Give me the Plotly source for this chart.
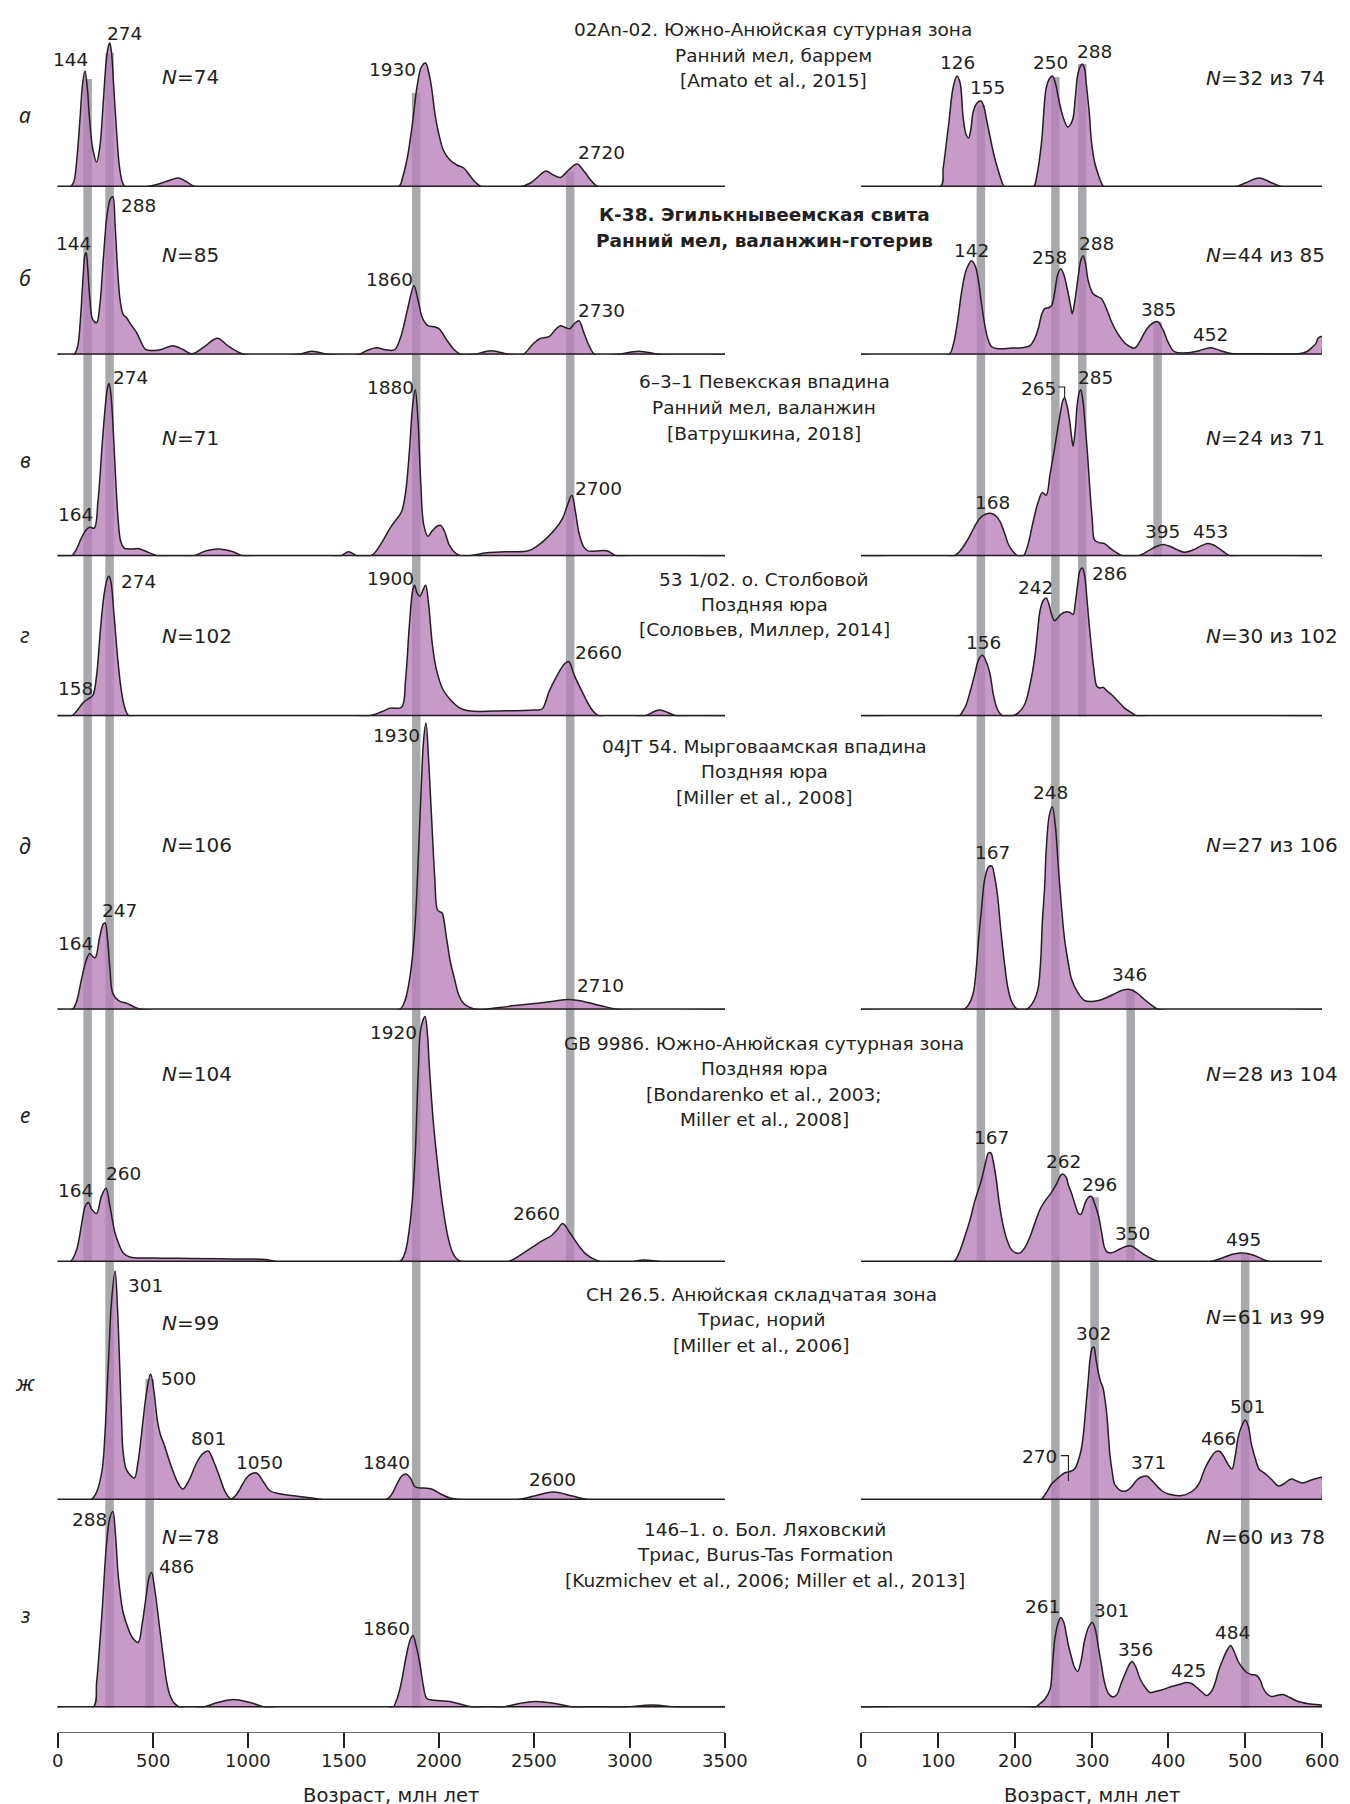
import plotly.graph_objects as go

# ============================ DATA ============================
row_letters = ["а", "б", "в", "г", "д", "е", "ж", "з"]

titles = [
    ["02An-02. Южно-Анюйская сутурная зона", "Ранний мел, баррем", "[Amato et al., 2015]"],
    ["К-38. Эгилькнывеемская свита", "Ранний мел, валанжин-готерив"],
    ["6–3–1 Певекская впадина", "Ранний мел, валанжин", "[Ватрушкина, 2018]"],
    ["53 1/02. о. Столбовой", "Поздняя юра", "[Соловьев, Миллер, 2014]"],
    ["04JT 54. Мырговаамская впадина", "Поздняя юра", "[Miller et al., 2008]"],
    ["GB 9986. Южно-Анюйская сутурная зона", "Поздняя юра", "[Bondarenko et al., 2003;", "Miller et al., 2008]"],
    ["CH 26.5. Анюйская складчатая зона", "Триас, норий", "[Miller et al., 2006]"],
    ["146–1. о. Бол. Ляховский", "Триас, Burus-Tas Formation", "[Kuzmichev et al., 2006; Miller et al., 2013]"],
]
bold_title_rows = [1]

n_total = [74, 85, 71, 102, 106, 104, 99, 78]
n_young = [32, 44, 24, 30, 27, 28, 61, 60]

left_ticks = [0, 500, 1000, 1500, 2000, 2500, 3000, 3500]
right_ticks = [0, 100, 200, 300, 400, 500, 600]
axis_title = "Возраст, млн лет"

# density curves (age in Ma, relative density) - left panel 0-3500 Ma
a_left = [(0,0),(65,0),(85,5),(100,25),(118,68),(132,104),(144,116),(156,100),(168,68),(185,38),(205,25),
          (222,40),(240,85),(255,125),(266,140),(274,144),(283,135),(295,100),(310,55),(325,20),(340,5),(355,0),
          (460,0),(530,3),(600,7.5),(633,9),(670,6),(729,0),
          (1787,0),(1810,10),(1835,30),(1860,62),(1885,100),(1908,120),(1930,124),(1946,115),(1961,100),(1980,72),
          (1997,55),(2025,36),(2058,27),(2094,22),(2130,19),(2160,12),(2190,5),(2227,0),
          (2420,0),(2480,4),(2530,12),(2560,16),(2600,12),(2637,9.6),(2680,17),(2724,23),(2760,16),(2800,6),(2838,0),(3500,0)]
b_left = [(0,0),(85,0),(105,8),(120,35),(135,80),(144,100),(150,102),(158,88),(170,55),(185,35),(205,32),(222,50),
          (240,95),(260,140),(278,156),(290,158),(302,130),(315,85),(330,52),(345,40),(362,37),(385,30),(415,22),
          (440,12),(464,5),(540,5),(604,9),(660,5),(705,1),(770,8),(838,16.5),(900,8),(983,0),
          (1260,0),(1333,3.5),(1430,0),(1575,0),(1620,4),(1671,7),(1720,5),(1768,5),(1800,18),(1835,45),(1869,69),
          (1890,55),(1913,37),(1942,29),(1975,28),(2000,26),(2040,15),(2080,5),(2118,0),(2178,0),(2275,4),(2371,0),
          (2439,0),(2490,10),(2528,16),(2577,18),(2610,25),(2637,29),(2665,27),(2686,26),(2710,31),(2734,34),
          (2760,22),(2790,8),(2818,0),(2927,0),(3048,3.5),(3168,0),(3500,0)]
v_left = [(0,0),(72,0),(100,8),(125,20),(150,29),(169,32),(193,31),(212,60),(235,125),(252,168),(262,185),(270,190),
          (280,178),(292,140),(305,85),(318,40),(332,16),(350,9),(390,8),(427,8.4),(480,4),(536,0),(705,0),(780,6),
          (845,8),(920,5),(983,0),(1478,0),(1526,5),(1575,0),(1647,1),(1700,15),(1744,31),(1775,40),(1804,49),
          (1825,70),(1845,115),(1862,165),(1876,183),(1890,150),(1905,80),(1920,35),(1942,22),(1965,28),(1990,33),
          (2009,34),(2030,27),(2055,12),(2090,3),(2130,0),(2251,4),(2350,5),(2468,6),(2520,12),(2565,20),(2610,30),
          (2649,42),(2675,57),(2697,67),(2715,50),(2735,25),(2760,10),(2782,6),(2879,6),(2939,0),(3500,0)]
g_left = [(0,0),(72,0),(105,7),(135,15),(160,19),(185,23),(205,45),(225,95),(245,135),(262,152),(270,154),(280,148),
          (295,115),(315,65),(335,28),(355,8),(379,0),(1623,0),(1700,5),(1744,9),(1804,10),(1825,40),(1845,100),
          (1862,138),(1872,144),(1886,135),(1900,132),(1915,138),(1930,144),(1945,125),(1965,80),(1985,53),(2020,30),
          (2070,16),(2110,9),(2154,6),(2350,6),(2500,7),(2541,8),(2577,27),(2620,45),(2660,58),(2681,60),(2710,45),
          (2758,24),(2800,8),(2842,0),(3072,0),(3156,7),(3253,0),(3500,0)]
d_left = [(0,0),(77,0),(100,8),(126,30),(150,48),(169,55),(185,52),(198,51),(220,70),(240,84),(250,85),(262,70),
          (275,40),(290,16),(320,9),(367,6),(410,2),(452,0),(1792,0),(1820,8),(1840,23),(1860,50),(1876,86),
          (1892,150),(1905,208),(1920,265),(1932,281),(1946,245),(1961,190),(1978,130),(1992,98),(2005,96),(2016,95),
          (2040,70),(2060,47),(2082,30),(2105,14),(2130,6),(2165,2),(2203,0),(2227,0),(2396,4),(2550,7),(2673,10),
          (2730,9),(2782,7),(2870,3),(2951,0),(3500,0)]
e_left = [(0,0),(65,0),(100,12),(126,37),(145,55),(162,59),(180,52),(205,48),(230,65),(254,73),(275,55),(300,30),
          (319,19),(345,9),(379,5),(500,4),(705,3.5),(900,3),(1092,2.5),(1164,0),(1792,0),(1820,8),(1840,26),
          (1860,60),(1876,108),(1892,190),(1905,231),(1927,243),(1940,225),(1949,196),(1970,140),(1997,90),(2020,55),
          (2046,26),(2070,10),(2094,3),(2130,0),(2359,0),(2420,6),(2468,12),(2541,21),(2589,26),(2620,32),(2649,38),
          (2690,28),(2734,16),(2770,8),(2806,3.5),(2855,0),(3000,0),(3072,2),(3180,0),(3500,0)]
zh_left = [(0,0),(174,0),(205,8),(234,30),(250,70),(260,110),(270,150),(283,198),(302,229),(315,190),(326,135),
           (335,85),(343,50),(358,32),(372,27),(403,22),(420,35),(440,65),(465,105),(488,126),(505,110),(524,79),
           (540,65),(560,55),(585,40),(609,27),(635,16),(657,11),(690,20),(729,37),(760,46),(790,49),(820,38),
           (850,23),(880,8),(910,1),(940,6),(971,16),(1000,24),(1043,27),(1080,18),(1116,9),(1164,6.3),(1250,4),
           (1333,2),(1405,0),(1720,0),(1750,5),(1780,16),(1805,24),(1828,26),(1850,22),(1876,13),(1920,12),(1961,11),
           (2010,6),(2058,2),(2130,0),(2396,0),(2500,4),(2601,8),(2700,4),(2794,0),(3500,0)]
z_left = [(0,0),(186,0),(205,25),(220,60),(234,96),(258,166),(275,190),(290,196),(305,170),(319,131),(343,96),
          (360,85),(379,75),(400,68),(423,65),(445,85),(464,110),(480,130),(493,135),(510,118),(536,79),(555,50),
          (572,26),(590,12),(609,5),(645,0),(753,0),(840,5),(923,8),(1010,5),(1104,0),(1756,0),(1775,6),(1792,16),
          (1810,32),(1828,51),(1850,68),(1864,72),(1880,62),(1900,44),(1918,22),(1937,9),(1990,7),(2058,6),(2120,3),
          (2190,0),(2323,0),(2420,4),(2504,6),(2610,4),(2722,0),(2951,0),(3120,2.5),(3265,0),(3500,0)]

# right panel 0-600 Ma
a_right = [(0,0),(103,0),(107,19),(114,62),(120,100),(125,111),(129,104),(133,69),(137,52),(140,49),(143,58),
           (146,75),(151,84),(156,86),(160,80),(163,69),(168,50),(174,29),(180,13),(183,6),(187,0),
           (224,0),(229,12),(235,45),(241,99),(245,108),(249,111),(253,104),(257,89),(263,70),(269,60),(273,63),
           (276,69),(279,90),(282,112),(285,120),(288,123),(291,118),(293,105),(297,75),(300,45),(304,25),(309,12),
           (313,4),(317,0),(486,0),(500,4),(518,9),(535,4),(549,0),(600,0)]
b_right = [(0,0),(114,0),(120,10),(126,35),(131,63),(137,85),(144,94),(149,88),(153,73),(157,50),(161,30),(165,16),
           (170,8),(179,6),(196,6.6),(210,7),(220,9),(226,16),(231,27),(235,40),(239,46),(244,47),(248,49),(252,62),
           (256,80),(260,86),(264,80),(270,60),(273,48),(275,41),(278,52),(283,80),(286,94),(289,99),(292,92),
           (296,73),(302,61),(308,58),(313,56),(320,45),(326,33),(335,20),(343,12),(350,8),(356,6.6),(362,12),
           (369,22),(377,30),(386,33),(393,25),(400,12),(408,3),(426,2),(440,4),(455,7),(468,4),(482,1.3),(520,1),
           (569,1),(580,3),(586,6.6),(592,11),(595,16.6),(600,18),(600,0)]
v_right = [(0,0),(120,0),(128,5),(135,13),(142,23),(148,33),(154,41),(159,45),(165,47),(170,47),(176,44),(181,38),
           (187,25),(192,13),(198,5),(205,0),(211,0),(217,12),(224,38),(230,58),(236,70),(241,67),(246,90),(252,119),
           (256,140),(260,160),(263,172),(265,174),(268,166),(271,152),(274,132),(276,121),(279,140),(281,163),
           (284,180),(286,183),(289,170),(291,152),(295,110),(298,72),(301,40),(304,18),(310,15),(317,14),(324,9),
           (330,5.5),(341,0),(359,0),(368,3),(376,7),(385,11),(393,13),(402,11),(412,7),(421,4.4),(432,7),(444,12),
           (452,14),(462,11),(472,5),(482,0),(600,0)]
g_right = [(0,0),(127,0),(132,5),(137,13),(143,30),(148,46),(153,62),(158,67),(163,60),(168,46),(172,25),(176,11),
           (180,4),(185,0),(196,0),(205,4),(213,13),(220,35),(226,64),(230,95),(233,116),(237,127),(241,130),
           (245,122),(248,112),(252,105),(256,108),(260,112),(264,114),(268,115),(272,114),(276,112),(279,125),
           (282,145),(285,160),(288,163),(291,155),(294,130),(297,100),(300,75),(303,52),(307,33),(311,31),(315,32),
           (320,28),(326,24),(335,16),(343,9),(352,4),(361,0),(600,0)]
d_right = [(0,0),(133,0),(140,5),(146,16),(150,40),(153,69),(157,100),(161,128),(166,140),(170,141),(174,130),
           (178,110),(182,78),(187,44),(191,22),(196,8),(200,3),(205,0),(215,0),(222,5),(228,14),(231,23),(234,50),
           (236,86),(239,120),(241,156),(245,190),(249,199),(253,180),(257,138),(261,100),(265,69),(270,45),(274,30),
           (282,17),(291,9),(300,8),(309,9),(320,12),(331,16),(340,19),(349,20),(358,17),(369,10),(379,4),(389,0),
           (600,0)]
e_right = [(0,0),(120,0),(127,8),(135,25),(142,42),(148,60),(153,72),(157,82),(162,98),(166,108),(169,108),
           (172,100),(176,82),(180,58),(185,36),(190,22),(196,12),(202,9),(207,9),(213,14),(220,25),(226,38),
           (233,52),(240,61),(248,69),(255,78),(260,86),(263,87),(267,84),(270,76),(274,68),(279,56),(283,48),
           (286,47),(289,52),(292,59),(296,64),(300,65),(304,58),(309,46),(313,30),(317,14),(320,10),(324,9),
           (330,10),(335,12),(343,15),(351,16),(360,12),(369,7),(379,3),(389,0),(452,0),(470,4),(485,8),(497,9),
           (510,7),(522,3),(534,0),(600,0)]
zh_right = [(0,0),(233,0),(240,6),(248,16),(255,21),(261,25),(266,27.5),(270,28),(274,29),(278,31),(283,40),
            (287,52),(290,70),(293,96),(296,122),(298,140),(301,152),(303,153),(306,140),(309,127),(312,118),
            (315,112),(318,98),(320,85),(322,65),(324,45),(327,28),(330,16),(335,11),(339,9),(345,9),(352,13),
            (359,20),(365,23),(372,24),(378,20),(385,14),(392,9),(400,6),(417,4.4),(434,10.5),(441,18),(447,30.5),
            (455,42),(461,48),(466,49),(471,45),(476,38),(480,33),(483,31),(487,44),(491,63),(495,73),(500,80),
            (504,74),(508,56),(513,42),(518,31),(523,28),(528,25),(535,20),(543,14),(550,16),(560,21),(567,19),
            (575,17),(586,20),(595,22),(600,22.5),(600,0)]
z_right = [(0,0),(226,0),(233,4),(239,8),(246,18),(249,40),(252,67),(256,83),(260,90),(264,85),(267,74),(270,62),
           (274,50),(278,40),(282,36),(286,45),(291,67),(296,80),(301,85),(305,78),(309,60),(313,42),(317,25),
           (322,14),(328,10.5),(333,13),(339,25),(345,36),(350,44),(353,46),(358,40),(363,29),(370,20),(376,15),
           (383,16),(391,17.5),(397,19),(404,21),(414,23),(424,25),(430,24),(437,20),(443,16),(450,12),(456,16),
           (461,25),(465,36),(472,50),(477,58),(481,62),(485,57),(491,46),(496,40),(502,35),(508,33),(515,32),
           (520,27),(523,20),(528,14),(534,11),(541,12),(549,13),(558,10),(569,6),(585,3.5),(600,2),(600,0)]

left_curves = [a_left, b_left, v_left, g_left, d_left, e_left, zh_left, z_left]
right_curves = [a_right, b_right, v_right, g_right, d_right, e_right, zh_right, z_right]

# peak age labels
left_peaks = [[144, 274, 1930, 2720], [144, 288, 1860, 2730], [274, 1880, 164, 2700], [274, 1900, 158, 2660],
              [1930, 247, 164, 2710], [1920, 164, 260, 2660], [301, 500, 801, 1050, 1840, 2600], [288, 486, 1860]]
right_peaks = [[126, 155, 250, 288], [142, 258, 288, 385, 452], [265, 285, 168, 395, 453], [242, 286, 156],
               [248, 167, 346], [167, 262, 296, 350, 495], [302, 270, 371, 466, 501], [261, 301, 356, 425, 484]]

# grey reference bands (age, Ma)
left_band_ages = [158, 273, 483, 1881, 2688]
right_band_ages = [156, 253, 288, 386, 351, 304, 500]

# leader brackets for labels 265 (row в) and 270 (row ж), right panel
bracket_v_age = [257, 265, 265]
bracket_v_dens = [186, 186, 174]
bracket_zh_age = [260, 270, 270]
bracket_zh_dens = [44.4, 44.4, 19]

# ============================ LAYOUT / STYLE ============================
W, H = 1350, 1804
X_LEFT = (49.5, 717.0)
X_RIGHT = (853.0, 1314.0)
baseline_px = [179.0, 346.7, 548.3, 708.3, 1001.7, 1254.0, 1492.0, 1699.5]
unit_px = [1.0, 1.0, 0.91, 0.91, 1.02, 1.01, 1.0, 1.0]
AXIS_Y = 1723.5
TICKLABEL_Y = 1752
AXIS_TITLE_Y = 1787
INK = "#231f20"
AXIS_LINE = "#6d6e71"
FILL = "rgba(185,129,186,0.80)"
BAND = "#a7a9ac"
FONT = "DejaVu Sans"

# label placements (age, height[, xanchor]) -- same order as *_peaks
left_label_xy = [
    [(68, 128), (353, 154), (1758, 118), (2852, 35)],
    [(86, 111.5), (427, 149.5), (1741, 75.6), (2852, 44)],
    [(385, 196), (1744, 185), (93, 46), (2839, 75)],
    [(424, 148.6), (1744, 151.5), (93, 31), (2839, 69.7)],
    [(1780, 269), (327, 97.6), (93, 65), (2846, 23.3)],
    [(1763, 227), (93, 70.6), (345, 88), (2514, 48.3)],
    [(464, 215), (633, 122), (793, 61.5), (1058, 37.8), (1724, 37.8), (2597, 20.6)],
    [(170, 188), (624, 141), (1724, 78.7)],
]
right_label_xy = [
    [(125, 125), (165, 100), (247, 125), (304, 136)],
    [(144, 104.6), (245, 97), (306, 111), (387, 45), (455, 20.6)],
    [(256, 184.5, "right"), (305, 196), (171, 59.4), (392, 26.8), (455, 26.8)],
    [(227, 142), (323, 156.6), (160, 80.7)],
    [(247, 212.7), (171, 154), (349, 34.5)],
    [(170, 123), (264, 99.5), (310, 77), (353, 28.4), (498, 22.4)],
    [(303, 167), (258, 43.3, "right"), (374, 37.8), (465, 61.5), (503, 94)],
    [(236, 100.6), (326, 97), (357, 58.5), (426, 37.5), (483, 75.3)],
]
left_n_xy = [(536, 110), (536, 100), (536, 130), (536, 88), (536, 161.7), (536, 186), (536, 177), (536, 171)]
right_n_xy = [(447, 109), (447, 99.7), (447, 130), (447, 88), (447, 161.8), (447, 186), (447, 183), (447, 170.6)]
# bands: (top row, top height, bottom row)
left_band_span = [(0, 108, 5), (0, 134, 7), (6, 121, 7), (0, 94, 7), (0, 15.5, 5)]
right_band_span = [(0, 82, 5), (0, 110, 7), (0, 123, 3), (1, 33, 2), (4, 20, 5), (5, 64, 7), (5, 9, 7)]
letter_y = [107, 270, 452, 627, 838, 1107, 1375, 1607]
title_x = [765, 756, 756, 756, 756, 756, 753, 757]
title_y0 = [21.7, 206.7, 374, 571, 738, 1035, 1286, 1521]
TITLE_DY = 25.5


def py(p):
    return 1 - p / H


def px(p):
    return p / W


def sfx(k):
    return "" if k == 1 else str(k)


fig = go.Figure()
layout_axes = {}
for i in range(8):
    top = 1.0 if i == 0 else baseline_px[i - 1] - 12
    span = baseline_px[i] - top
    for c in range(2):
        k = 2 * i + c + 1
        xd = X_LEFT if c == 0 else X_RIGHT
        xr = [0, 3500] if c == 0 else [0, 600]
        xa = dict(domain=[px(xd[0]), px(xd[1])], range=xr, anchor="y" + sfx(k), visible=False,
                  showgrid=False, zeroline=False, fixedrange=True)
        if i == 7:
            xa.update(visible=True, anchor="free", position=py(AXIS_Y), showline=True, linecolor=AXIS_LINE,
                      linewidth=1.2, ticks="outside", ticklen=15, tickwidth=2, tickcolor=INK,
                      tickvals=left_ticks if c == 0 else right_ticks, showticklabels=False)
        layout_axes["xaxis" + sfx(k)] = xa
        layout_axes["yaxis" + sfx(k)] = dict(domain=[py(baseline_px[i]), py(top)], range=[0, span / unit_px[i]],
                                              anchor="x" + sfx(k), visible=False, showgrid=False,
                                              zeroline=False, fixedrange=True)

shapes = []
annotations = []

# curves
for i in range(8):
    for c, curves in enumerate([left_curves, right_curves]):
        k = 2 * i + c + 1
        pts = curves[i]
        fig.add_trace(go.Scatter(
            x=[p[0] for p in pts], y=[p[1] for p in pts], mode="lines",
            line=dict(color=INK, width=1.5, shape="spline", smoothing=1.0),
            fill="tozeroy", fillcolor=FILL, xaxis="x" + sfx(k), yaxis="y" + sfx(k),
            hoverinfo="skip", showlegend=False))
        # thick baseline
        shapes.append(dict(type="line", xref="x" + sfx(k) + " domain", yref="y" + sfx(k),
                           x0=0, x1=1, y0=0, y1=0, line=dict(color=INK, width=3), layer="above"))

# brackets
fig.add_trace(go.Scatter(x=bracket_v_age, y=bracket_v_dens, mode="lines", line=dict(color=INK, width=1.1),
                         xaxis="x6", yaxis="y6", hoverinfo="skip", showlegend=False))
fig.add_trace(go.Scatter(x=bracket_zh_age, y=bracket_zh_dens, mode="lines", line=dict(color=INK, width=1.1),
                         xaxis="x14", yaxis="y14", hoverinfo="skip", showlegend=False))

# grey bands
for c, (ages, spans) in enumerate([(left_band_ages, left_band_span), (right_band_ages, right_band_span)]):
    k = c + 1
    for age, (tr, th, br) in zip(ages, spans):
        ytop = baseline_px[tr] - th * unit_px[tr]
        shapes.append(dict(type="line", xref="x" + sfx(k), yref="paper", x0=age, x1=age,
                           y0=py(baseline_px[br]), y1=py(ytop), line=dict(color=BAND, width=8.5), layer="below"))

# texts
for i in range(8):
    annotations.append(dict(xref="paper", yref="paper", x=px(17), y=py(letter_y[i]), text="<i>%s</i>" % row_letters[i],
                            showarrow=False, font=dict(family="Noto Sans", size=21, color=INK),
                            xanchor="center", yanchor="middle"))
    for j, line in enumerate(titles[i]):
        txt = "<b>%s</b>" % line if i in bold_title_rows else line
        annotations.append(dict(xref="paper", yref="paper", x=px(title_x[i]), y=py(title_y0[i] + j * TITLE_DY),
                                text=txt, showarrow=False, font=dict(family=FONT, size=18.5, color=INK),
                                xanchor="center", yanchor="middle"))
    kl, kr = 2 * i + 1, 2 * i + 2
    annotations.append(dict(xref="x" + sfx(kl), yref="y" + sfx(kl), x=left_n_xy[i][0], y=left_n_xy[i][1],
                            text="<i>N</i>=%d" % n_total[i], showarrow=False,
                            font=dict(family=FONT, size=20, color=INK), xanchor="left", yanchor="middle"))
    annotations.append(dict(xref="x" + sfx(kr), yref="y" + sfx(kr), x=right_n_xy[i][0], y=right_n_xy[i][1],
                            text="<i>N</i>=%d из %d" % (n_young[i], n_total[i]), showarrow=False,
                            font=dict(family=FONT, size=20, color=INK), xanchor="left", yanchor="middle"))
    for c, (peaks, xy) in enumerate([(left_peaks, left_label_xy), (right_peaks, right_label_xy)]):
        k = 2 * i + c + 1
        for val, pos in zip(peaks[i], xy[i]):
            anc = pos[2] if len(pos) > 2 else "center"
            annotations.append(dict(xref="x" + sfx(k), yref="y" + sfx(k), x=pos[0], y=pos[1], text=str(val),
                                    showarrow=False, font=dict(family=FONT, size=18.5, color=INK),
                                    xanchor=anc, yanchor="middle"))

# tick labels and axis titles of the bottom axes
for c, (xd, ticks) in enumerate([(X_LEFT, left_ticks), (X_RIGHT, right_ticks)]):
    k = 15 + c
    for t in ticks:
        annotations.append(dict(xref="x" + sfx(k), yref="paper", x=t, y=py(TICKLABEL_Y), text=str(t),
                                showarrow=False, font=dict(family=FONT, size=18, color=INK),
                                xanchor="center", yanchor="middle"))
    annotations.append(dict(xref="paper", yref="paper", x=px((xd[0] + xd[1]) / 2), y=py(AXIS_TITLE_Y),
                            text=axis_title, showarrow=False, font=dict(family=FONT, size=19.5, color=INK),
                            xanchor="center", yanchor="middle"))

fig.update_layout(width=W, height=H, margin=dict(l=0, r=0, t=0, b=0), paper_bgcolor="white",
                  plot_bgcolor="rgba(0,0,0,0)", showlegend=False, shapes=shapes, annotations=annotations,
                  **layout_axes)

fig.write_html("out.html")
